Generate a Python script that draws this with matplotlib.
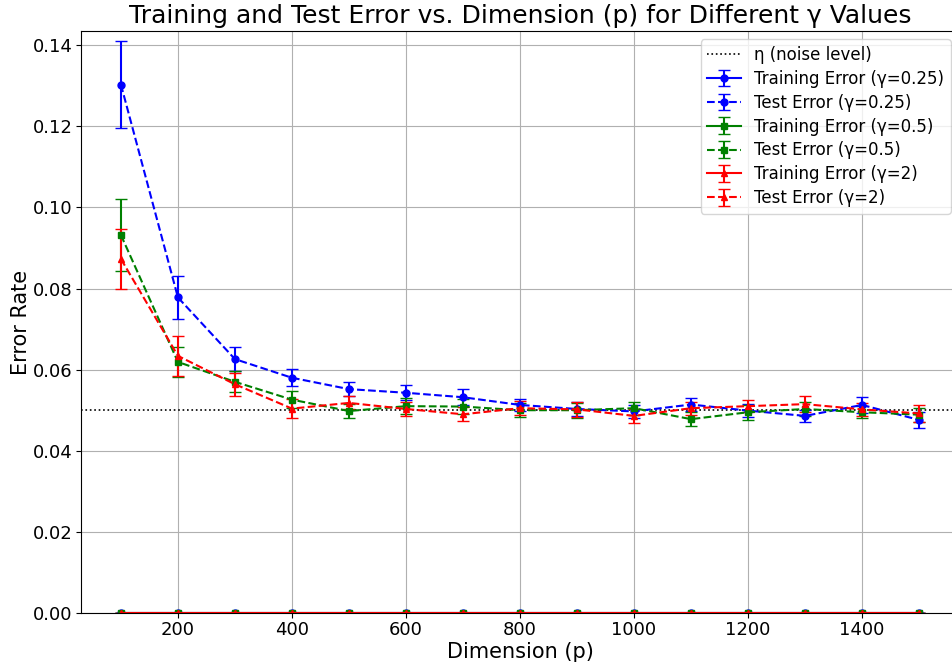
import matplotlib
matplotlib.use("Agg")
import matplotlib.pyplot as plt
import numpy as np

dims = [100, 200, 300, 400, 500, 600, 700, 800, 900, 1000, 1100, 1200, 1300, 1400, 1500]
gammas = [0.25, 0.5, 2]
noise_level = 0.05

train_err = {
    0.25: [0.0] * 15,
    0.5: [0.0] * 15,
    2: [0.0] * 15,
}
train_std = {
    0.25: [0.0] * 15,
    0.5: [0.0] * 15,
    2: [0.0] * 15,
}
test_err = {
    0.25: [0.1303, 0.0778, 0.0626, 0.0580, 0.0552, 0.0543, 0.0532, 0.0513, 0.0503, 0.0497,
           0.0514, 0.0499, 0.0486, 0.0513, 0.0476],
    0.5: [0.0932, 0.0619, 0.0570, 0.0526, 0.0498, 0.0510, 0.0509, 0.0500, 0.0500, 0.0505,
          0.0478, 0.0495, 0.0503, 0.0495, 0.0489],
    2: [0.0873, 0.0634, 0.0564, 0.0504, 0.0518, 0.0503, 0.0490, 0.0505, 0.0502, 0.0486,
        0.0505, 0.0510, 0.0515, 0.0502, 0.0492],
}
test_std = {
    0.25: [0.0107, 0.0052, 0.0030, 0.0021, 0.0018, 0.0018, 0.0020, 0.0015, 0.0017, 0.0015,
           0.0015, 0.0016, 0.0015, 0.0019, 0.0019],
    0.5: [0.0088, 0.0036, 0.0026, 0.0021, 0.0017, 0.0020, 0.0019, 0.0017, 0.0018, 0.0016,
          0.0018, 0.0019, 0.0017, 0.0015, 0.0017],
    2: [0.0073, 0.0049, 0.0028, 0.0023, 0.0016, 0.0017, 0.0017, 0.0018, 0.0018, 0.0018,
        0.0016, 0.0015, 0.0020, 0.0016, 0.0022],
}
colors = {0.25: 'blue', 0.5: 'green', 2: 'red'}
markers = {0.25: 'o', 0.5: 's', 2: '^'}

fig = plt.figure(figsize=(9.52, 6.62), dpi=100)
ax = fig.add_axes([81 / 952, 49 / 662, (959 - 81) / 952, (613 - 31) / 662])

ax.axhline(noise_level, color='black', linestyle=':', linewidth=1.2, label='η (noise level)')
for g in gammas:
    ax.errorbar(dims, train_err[g], yerr=train_std[g], color=colors[g], marker=markers[g],
                linestyle='-', capsize=4, markersize=5, label=f'Training Error (γ={g})')
    ax.errorbar(dims, test_err[g], yerr=test_std[g], color=colors[g], marker=markers[g],
                linestyle='--', capsize=4, markersize=5, label=f'Test Error (γ={g})')

ax.set_xlim(30, 1570)
ax.set_ylim(0, 0.1435)
ax.set_title('Training and Test Error vs. Dimension (p) for Different γ Values', fontsize=18)
ax.set_xlabel('Dimension (p)', fontsize=15, labelpad=2)
ax.set_ylabel('Error Rate', fontsize=15, labelpad=1)
ax.tick_params(labelsize=13, pad=2.5)
ax.grid(True)
ax.legend(loc='upper right', fontsize=12, labelspacing=0.35)

fig.savefig('out.png', dpi=100)
